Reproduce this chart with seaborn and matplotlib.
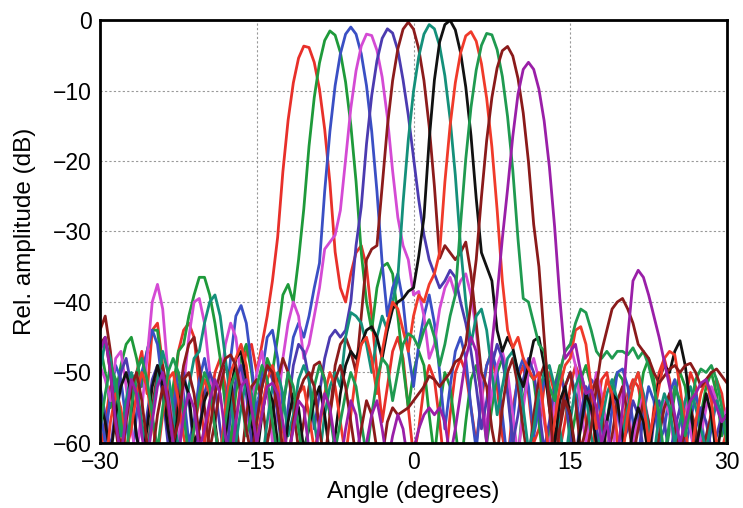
import numpy as np
import pandas as pd
import seaborn as sns
from matplotlib import pyplot as plt

# angle grid (degrees), 0.5 deg steps
angle = np.arange(-30, 30.5, 0.5)

# beam patterns, rows of 5 degrees (-30 .. 29.5) plus the last point at 30
red1 = [-62, -57, -52, -51, -56, -63, -55, -50, -47, -53,
        -44, -43, -49, -58, -54, -47, -44, -43, -45, -52,
        -60, -55, -50, -48, -52, -61, -57, -51, -47, -46,
        -50, -46, -42, -37, -30.8, -21.5, -14.2, -8.9, -5.4, -3.7,
        -3.9, -6.0, -9.8, -15.5, -23.1, -32.9, -38, -40, -36, -33,
        -32, -35, -42, -50, -57, -52, -47, -45, -48, -55,
        -62, -58, -52, -49, -51, -57, -64, -56, -50, -48,
        -50, -55, -60, -54, -49, -47, -52, -59, -63, -55,
        -51, -49, -53, -60, -58, -52, -50, -53, -61, -57,
        -52, -49, -51, -57, -63, -56, -51, -50, -54, -60,
        -58, -53, -51, -52, -56, -62, -55, -50, -48, -51,
        -57, -63, -54, -50, -52, -59, -62, -55, -51, -53,
        -58]

green2 = [-46, -50, -55, -53, -49, -46, -45, -48, -52, -47,
          -44, -44, -50, -57, -52, -47, -46, -42, -39, -36.5,
          -36.5, -39, -43, -48, -55, -60, -53, -48, -46, -50,
          -56, -52, -48, -50, -45, -39, -37.5, -40, -34, -26.8,
          -17.9, -11.0, -6.1, -2.9, -1.55, -2.15, -4.6, -8.8, -14.9, -22.9,
          -33.0, -40, -44, -38, -35, -34.5, -36, -42, -49, -55,
          -50, -47, -49, -56, -62, -55, -50, -52, -58, -64,
          -57, -51, -49, -53, -60, -55, -50, -48, -52, -59,
          -62, -54, -50, -51, -57, -64, -58, -52, -49, -53,
          -60, -56, -51, -49, -52, -58, -63, -57, -52, -50,
          -51, -56, -61, -55, -50, -48, -51, -57, -63, -58,
          -53, -50, -52, -58, -62, -56, -52, -50, -53, -59,
          -56]

blue3 = [-55, -60, -53, -49, -51, -57, -63, -56, -50, -47,
         -44, -46, -52, -59, -55, -50, -53, -60, -57, -51,
         -48, -52, -58, -63, -55, -48, -42, -40.5, -43, -49,
         -56, -50, -45, -44, -48, -55, -50, -45, -43, -45,
         -42, -38, -34.5, -24.3, -15.8, -9.3, -4.8, -2.0, -1.0, -2.0,
         -4.8, -9.3, -15.8, -24.3, -34.5, -42, -38, -36, -40, -47,
         -52, -46, -42, -39, -43, -50, -58, -52, -47, -45,
         -48, -55, -61, -53, -49, -47, -50, -56, -63, -57,
         -50, -48, -52, -59, -55, -51, -53, -60, -57, -52,
         -50, -53, -58, -54, -51, -52, -57, -62, -55, -50,
         -49.5, -52, -57, -62, -56, -52, -54, -60, -58, -53,
         -51, -55, -61, -57, -53, -56, -62, -58, -54, -57,
         -60]

magenta4 = [-49, -51, -54, -48, -47, -52, -58, -62, -55, -48,
            -40, -37.5, -41, -50, -58, -60, -52, -45, -40, -39.5,
            -43, -50, -57, -52, -46, -43, -45, -51, -58, -55,
            -50, -47, -52, -60, -55, -48, -43, -40, -42, -48,
            -46, -42, -38, -32.5, -31.5, -30.5, -27, -19.8, -12.5, -7.2,
            -3.7, -2.0, -2.2, -4.3, -8.1, -13.8, -21.4, -28, -32, -34,
            -39, -38.5, -42, -48, -46, -41, -38, -36.5, -39, -37,
            -36, -39, -44, -52, -58, -53, -49, -47, -50, -56,
            -62, -55, -50, -48, -51, -57, -61, -54, -50, -47,
            -46, -49, -55, -60, -54, -50, -53, -58, -62, -56,
            -52, -55, -60, -56, -53, -57, -63, -58, -54, -56,
            -61, -57, -54, -58, -63, -59, -55, -52, -54, -57,
            -55]

indigo5 = [-52, -56, -61, -55, -50, -48, -52, -59, -63, -56,
           -51, -49, -53, -60, -57, -52, -50, -54, -61, -58,
           -53, -50, -52, -58, -63, -56, -51, -49, -53, -60,
           -57, -52, -49, -51, -56, -62, -55, -49, -46, -47,
           -51, -58, -53, -48, -45, -44, -45, -44, -40, -32,
           -26.5, -17.6, -10.7, -5.8, -2.6, -1.25, -1.85, -4.3, -8.5, -13.5,
           -19.5, -25.5, -30.5, -34, -36, -38, -37, -35.5, -36.5, -40,
           -43, -47, -52, -58, -54, -49, -46, -48, -53, -60,
           -56, -51, -48, -50, -55, -61, -57, -52, -50, -53,
           -59, -63, -56, -52, -54, -58, -62, -57, -53, -55,
           -60, -58, -54, -56, -61, -63, -57, -54, -57, -62,
           -58, -55, -59, -63, -58, -55, -57, -61, -59, -56,
           -58]

brown6 = [-44, -42, -47, -55, -61, -56, -51, -53, -58, -62,
          -55, -50, -49, -53, -59, -54, -49, -46, -45, -49,
          -55, -61, -57, -52, -49, -51, -57, -63, -56, -52,
          -51, -54, -60, -56, -51, -48, -50, -55, -61, -57,
          -52, -49, -48.5, -51, -56, -49, -46, -45, -47, -50,
          -42, -34, -32.5, -32, -23.6, -15.1, -8.6, -4.1, -1.3, -0.3,
          -1.3, -4.1, -8.6, -15.1, -23.6, -33.8, -32, -33, -34, -33,
          -31.5, -36, -43, -50, -52, -58, -62, -55, -50, -48,
          -52, -58, -63, -56, -51, -49, -53, -60, -57, -52,
          -50, -54, -61, -58, -53, -51, -55, -62, -59, -54,
          -52, -56, -62, -58, -54, -57, -63, -59, -55, -53,
          -57, -62, -58, -55, -58, -63, -59, -56, -60, -62,
          -59]

teal7 = [-50, -45.5, -48, -53, -59, -54, -50, -52, -57, -62,
         -56, -51, -47, -50, -55, -61, -57, -52, -48, -47,
         -43, -40, -39, -42, -48, -54, -60, -55, -51, -53,
         -58, -63, -57, -52, -50, -53, -59, -56, -51, -49,
         -51, -57, -62, -56, -52, -50, -52, -45, -41.5, -42,
         -43, -46, -50, -45, -42, -44, -40, -36.5, -25.9, -17.0,
         -10.1, -5.2, -2.0, -0.65, -1.25, -3.7, -7.9, -14.0, -22.0, -32.1,
         -40, -46, -42, -41, -44, -50, -56, -52, -48, -47,
         -50, -55, -61, -58, -53, -50, -49, -52, -58, -63,
         -57, -52, -50, -53, -59, -63, -57, -53, -51, -54,
         -59, -55, -52, -50, -53, -58, -62, -56, -53, -55,
         -60, -57, -54, -52, -55, -58, -61, -57, -54, -56,
         -60]

black8 = [-54, -57, -62, -56, -52, -50, -53, -59, -63, -58,
          -52, -49, -52, -58, -62, -55, -51, -53, -60, -58,
          -54, -52, -57, -63, -59, -53, -48, -47, -51, -57,
          -62, -56, -52, -54, -60, -63, -57, -53, -55, -61,
          -58, -54, -52, -56, -62, -59, -53, -49, -47, -48,
          -46, -44, -43.5, -45, -48, -44, -41, -40, -39.5, -38.5,
          -38, -33.5, -28, -17, -8.5, -3.1, -0.65, -0.05, -1.4, -4.6,
          -9.5, -16.4, -25.3, -33, -35, -37, -44, -47, -45, -46.5,
          -50, -52, -49, -45.5, -45, -49, -55, -60, -54, -52,
          -56, -62, -58, -53, -55, -60, -63, -57, -53, -54,
          -59, -63, -58, -55, -57, -62, -56, -51, -49, -50,
          -47, -45.5, -49, -55, -61, -57, -53, -56, -62, -57,
          -56]

red9 = [-60, -64, -57, -53, -55, -61, -58, -53, -50, -52,
        -57, -62, -56, -51, -50, -54, -59, -63, -58, -54,
        -51, -53, -58, -62, -55, -50, -48, -46, -49, -55,
        -60, -55, -51, -49, -52, -58, -63, -57, -53, -52,
        -56, -61, -58, -53, -50, -52, -57, -62, -56, -50,
        -46, -45, -48, -53, -47, -43, -40, -41, -44, -47,
        -42, -39, -40, -37.5, -36, -33, -23, -15, -8.9, -4.7,
        -2.25, -1.65, -3.0, -6.2, -11.1, -18.0, -26.9, -37, -44, -46.5,
        -45, -48, -49.5, -51, -50, -56, -62, -57, -52, -49,
        -48, -44, -43.5, -46, -52, -58, -55, -51, -53, -59,
        -62, -56, -52, -50, -54, -60, -56, -52, -48, -47,
        -47.5, -52, -58, -63, -57, -53, -51, -54, -60, -61,
        -58]

green10 = [-58, -53, -49, -51, -57, -62, -55, -50, -48, -51,
           -56, -61, -55, -50, -48, -50, -56, -62, -58, -53,
           -50, -52, -58, -63, -57, -52, -50, -53, -59, -56,
           -52, -49, -51, -57, -62, -55, -50, -52, -58, -63,
           -57, -52, -49, -51, -56, -61, -57, -53, -50, -52,
           -57, -62, -56, -51, -48, -49, -54, -50, -46, -44.5,
           -45, -46.5, -44, -42.5, -45, -49, -46, -42, -39, -29,
           -19.7, -12.4, -7.1, -3.6, -1.9, -2.1, -4.2, -8.0, -13.7, -21.3,
           -31.1, -39.5, -40, -43, -46, -47, -52, -54, -50, -47,
           -46, -43, -41, -41.5, -44, -47, -48, -47, -48, -47,
           -47, -47.5, -46.5, -48, -47, -49, -52, -56, -62, -57,
           -52, -54, -59, -55, -51, -49.5, -50, -49, -51, -55,
           -60]

brown11 = [-46, -45, -50, -58, -63, -57, -52, -50, -54, -60,
           -62, -56, -52, -55, -60, -57, -51, -50, -53, -59,
           -63, -58, -53, -50, -48, -47.5, -49, -53, -58, -62,
           -57, -52, -49, -50, -55, -61, -63, -57, -53, -51,
           -50, -52, -58, -63, -56, -51, -49, -52, -57, -62,
           -58, -54, -56, -61, -62, -57, -55, -56, -55.5, -55,
           -54, -53, -52, -50.5, -51, -52, -51, -50, -48.5, -48,
           -46, -40, -34, -25.1, -17.1, -11.0, -6.8, -4.35, -3.75, -5.1,
           -8.3, -13.2, -20.1, -29.0, -35, -45, -55, -63, -58, -54,
           -56, -61, -64, -62, -58, -52, -47, -44, -41, -40,
           -39.5, -41, -43, -46, -47, -48, -50, -51.5, -50.5, -49.5,
           -49, -50, -49, -48.7, -50, -52, -51, -50, -49.5, -50.5,
           -51.5]

purple12 = [-47, -45, -50, -57, -62, -56, -51, -53, -59, -63,
            -57, -52, -50, -54, -60, -62, -56, -53, -55, -61,
            -58, -54, -51, -53, -59, -63, -57, -52, -51, -55,
            -60, -56, -52, -51.5, -53, -57, -62, -58, -54, -55,
            -61, -63, -57, -53, -55, -60, -63, -58, -54, -56,
            -62, -60, -56, -54, -58, -63, -59, -56, -58, -63,
            -61, -58, -56, -55, -56, -55, -57, -62, -58, -53,
            -48, -45, -47, -54, -60, -46, -39, -31, -24, -16.5,
            -10.5, -7.0, -6.0, -7.0, -9.8, -14.3, -20.8, -29.3, -39.5, -48,
            -47, -46, -50, -53, -52.5, -55, -60, -57, -62, -63,
            -55, -45, -37, -35.5, -36.5, -39, -42, -45, -48.5, -52,
            -56, -60, -57, -54, -53, -51.5, -51, -53, -55, -57,
            -56]

beams = {'red1': red1, 'green2': green2, 'blue3': blue3, 'magenta4': magenta4,
         'indigo5': indigo5, 'brown6': brown6, 'teal7': teal7, 'black8': black8,
         'red9': red9, 'green10': green10, 'brown11': brown11, 'purple12': purple12}

colors = {'red1': '#e8302a', 'green2': '#1e9a3a', 'blue3': '#3a4fc4',
          'magenta4': '#d44ad4', 'indigo5': '#4b3bb0', 'brown6': '#8c1c1c',
          'teal7': '#14907a', 'black8': '#111111', 'red9': '#f03a2a',
          'green10': '#1f9a50', 'brown11': '#8a1a1a', 'purple12': '#9a1fa8'}

df = pd.concat([pd.DataFrame({'angle': angle, 'dB': v, 'beam': k})
                for k, v in beams.items()], ignore_index=True)

sns.set_style('white')
plt.rcParams['font.family'] = ['Liberation Sans', 'DejaVu Sans']
plt.rcParams['text.color'] = 'black'
plt.rcParams['axes.labelcolor'] = 'black'
plt.rcParams['xtick.color'] = 'black'
plt.rcParams['ytick.color'] = 'black'

fig, ax = plt.subplots(figsize=(7.43, 5.08), dpi=100)
fig.subplots_adjust(left=0.1346, right=0.9785, top=0.9606, bottom=0.128)

sns.lineplot(data=df, x='angle', y='dB', hue='beam', palette=colors,
             estimator=None, sort=False, legend=False, linewidth=2.0, ax=ax)

ax.set_xlim(-30, 30)
ax.set_ylim(-60, 0)
ax.set_xticks([-30, -15, 0, 15, 30])
ax.set_yticks(range(-60, 1, 10))
ax.grid(True, color='#999999', linestyle=(0, (2, 2)), linewidth=0.8)
for s in ax.spines.values():
    s.set_color('black')
    s.set_linewidth(2.0)
ax.tick_params(length=0, labelsize=16.5, pad=6)
ax.set_xlabel('Angle (degrees)', fontsize=17.5, labelpad=5)
ax.set_ylabel('Rel. amplitude (dB)', fontsize=17.5, labelpad=12)

fig.savefig('out.png', dpi=100)
